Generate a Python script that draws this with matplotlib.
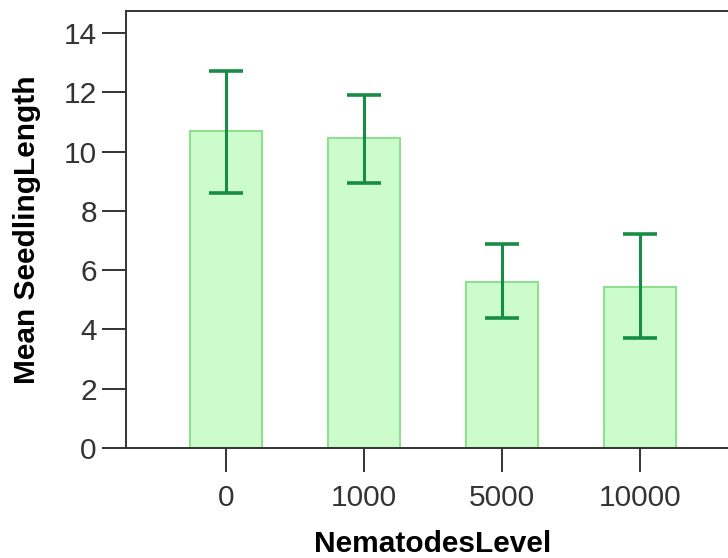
import matplotlib
matplotlib.use("Agg")
import matplotlib.pyplot as plt
import numpy as np

# data
levels = ["0", "1000", "5000", "10000"]
means = [10.69, 10.46, 5.59, 5.44]
ci_low = [8.60, 8.94, 4.38, 3.70]
ci_high = [12.72, 11.91, 6.87, 7.21]

plt.rcParams["font.family"] = ["Liberation Sans", "DejaVu Sans"]

fig = plt.figure(figsize=(7.28, 5.58), dpi=100)
# axes runs a little past the right edge, like the cropped original
ax = fig.add_axes([126 / 728, 1 - 448 / 558, 614 / 728, 437 / 558])

x = np.arange(len(levels))
means_a = np.array(means)
yerr = [means_a - np.array(ci_low), np.array(ci_high) - means_a]

ax.bar(x, means, width=0.52, color="#ccfccc", edgecolor="#8ee08e", linewidth=1.5, zorder=2)
ax.errorbar(x, means, yerr=yerr, fmt="none", ecolor="#178c47", elinewidth=2.2,
            capsize=12.2, capthick=2.6, zorder=3)

ax.set_xlim(-0.725, 3.725)
ax.set_ylim(0, 14.74)
ax.set_yticks(np.arange(0, 15, 2))
ax.set_xticks(x)
ax.set_xticklabels(levels)

for s in ax.spines.values():
    s.set_linewidth(1.4)
    s.set_color("#333333")
ax.spines["right"].set_visible(False)

ax.tick_params(axis="both", direction="out", length=17, width=1.4, color="#333333",
               labelsize=21.5, labelcolor="#333333")
ax.tick_params(axis="y", pad=4)
ax.tick_params(axis="x", pad=9)

ax.set_xlabel("NematodesLevel", fontsize=21.5, fontweight="bold", labelpad=13)
ax.set_ylabel("Mean SeedlingLength", fontsize=21.5, fontweight="bold", labelpad=16)

fig.savefig("out.png", dpi=100)
